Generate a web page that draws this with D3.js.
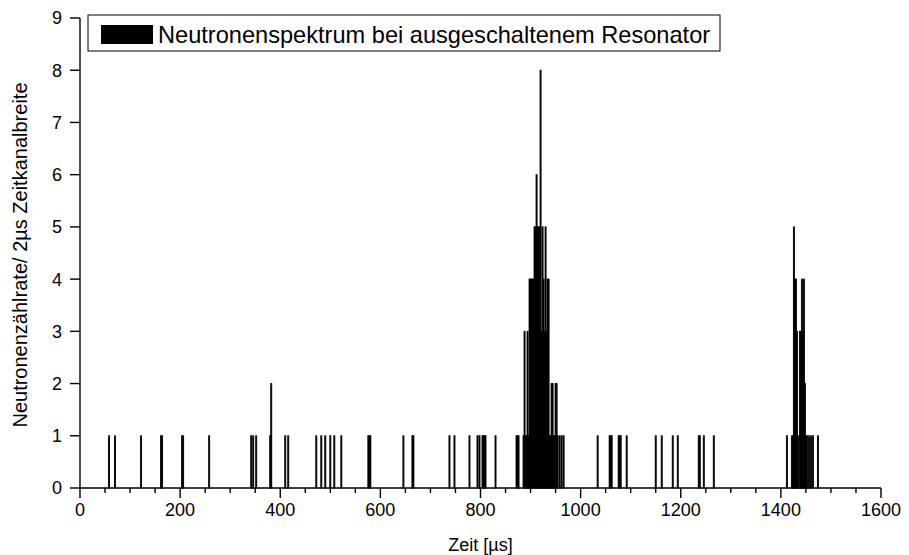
<!DOCTYPE html>
<html><head><meta charset="utf-8">
<script src="https://cdn.jsdelivr.net/npm/d3@7"></script>
<style>body{margin:0;background:#fff}svg{display:block}text{font-family:"Liberation Sans",Arial,sans-serif;fill:#000}</style>
</head><body><svg id="c" width="909" height="555"></svg>
<script>
// time channel (µs) and counts per 2 µs channel
const times = [58,70,122,162,164,204,206,258,342,346,352,380,382,410,416,472,482,490,500,508,522,576,578,580,646,664,666,738,748,778,794,798,804,806,808,810,830,872,874,876,
886,888,890,892,894,896,898,900,902,904,906,908,910,912,914,916,918,920,922,924,926,928,930,932,934,936,938,940,942,944,946,948,950,952,954,958,962,966,
1034,1058,1060,1062,1076,1078,1080,1092,1150,1162,1184,1194,1236,1238,1246,1266,
1412,1422,1424,1426,1428,1430,1432,1434,1438,1440,1442,1444,1446,1448,1450,1452,1456,1460,1464,1474];
const counts = [1,1,1,1,1,1,1,1,1,1,1,1,2,1,1,1,1,1,1,1,1,1,1,1,1,1,1,1,1,1,1,1,1,1,1,1,1,1,1,1,
1,3,1,1,3,1,4,4,4,4,4,5,5,6,5,5,5,8,3,5,4,3,5,3,4,4,1,1,2,2,1,1,2,2,1,1,1,1,
1,1,1,1,1,1,1,1,1,1,1,1,1,1,1,1,
1,1,1,5,4,4,3,1,3,3,4,3,4,2,1,1,1,1,1,1];
const xTicks = [0,200,400,600,800,1000,1200,1400,1600];
const yTicks = [0,1,2,3,4,5,6,7,8,9];
const channelWidth = 2;
const legendLabel = "Neutronenspektrum bei ausgeschaltenem Resonator";
const xTitle = "Zeit [µs]";
const yTitle = "Neutronenzählrate/ 2µs Zeitkanalbreite";

const svg = d3.select("#c");
const x = d3.scaleLinear().domain([0,1600]).range([80,881]);
const y = d3.scaleLinear().domain([0,9]).range([488,18]);

const data = times.map((t,i)=>({t, c:counts[i]}));
svg.append("g").selectAll("rect").data(data).join("rect")
  .attr("x", d=>x(d.t - channelWidth/2))
  .attr("width", d=>Math.max(1, x(d.t+channelWidth/2)-x(d.t-channelWidth/2)))
  .attr("y", d=>y(d.c))
  .attr("height", d=>y(0)-y(d.c))
  .attr("fill","#000").attr("stroke","#000").attr("stroke-width",0.9);

// x axis
const xa = svg.append("g").attr("transform","translate(0,488)");
xa.append("line").attr("x1",x(0)).attr("x2",x(1600)).attr("stroke","#000").attr("stroke-width",1.4);
xa.selectAll("line.mn").data(d3.range(0,1601,50)).join("line").attr("class","mn")
  .attr("x1",d=>x(d)).attr("x2",d=>x(d)).attr("y1",0).attr("y2",d=>d%200===0?10:5)
  .attr("stroke","#000").attr("stroke-width",1.4);
xa.selectAll("text").data(xTicks).join("text")
  .attr("x",d=>x(d)).attr("y",28).attr("text-anchor","middle").attr("font-size",18).text(d=>d);

// y axis
const ya = svg.append("g").attr("transform","translate(80,0)");
ya.append("line").attr("y1",y(0)).attr("y2",y(9)).attr("stroke","#000").attr("stroke-width",1.4);
ya.selectAll("line.t").data(yTicks).join("line").attr("class","t")
  .attr("x1",-10).attr("x2",0).attr("y1",d=>y(d)).attr("y2",d=>y(d)).attr("stroke","#000").attr("stroke-width",1.4);
ya.selectAll("text").data(yTicks).join("text")
  .attr("x",-18).attr("y",d=>y(d)).attr("dy","0.36em").attr("text-anchor","end").attr("font-size",18).text(d=>d);

// titles
svg.append("text").attr("x",480.5).attr("y",551).attr("text-anchor","middle").attr("font-size",18).text(xTitle);
svg.append("text").attr("transform","translate(27,255) rotate(-90)").attr("text-anchor","middle").attr("font-size",20).text(yTitle);

// legend
const lg = svg.append("g");
lg.append("rect").attr("x",88).attr("y",15).attr("width",632).attr("height",36).attr("fill","#fff").attr("stroke","#000").attr("stroke-width",1);
lg.append("rect").attr("x",101).attr("y",25).attr("width",52).attr("height",19).attr("fill","#000");
lg.append("text").attr("x",158).attr("y",43).attr("font-size",23.6).text(legendLabel);
</script></body></html>
